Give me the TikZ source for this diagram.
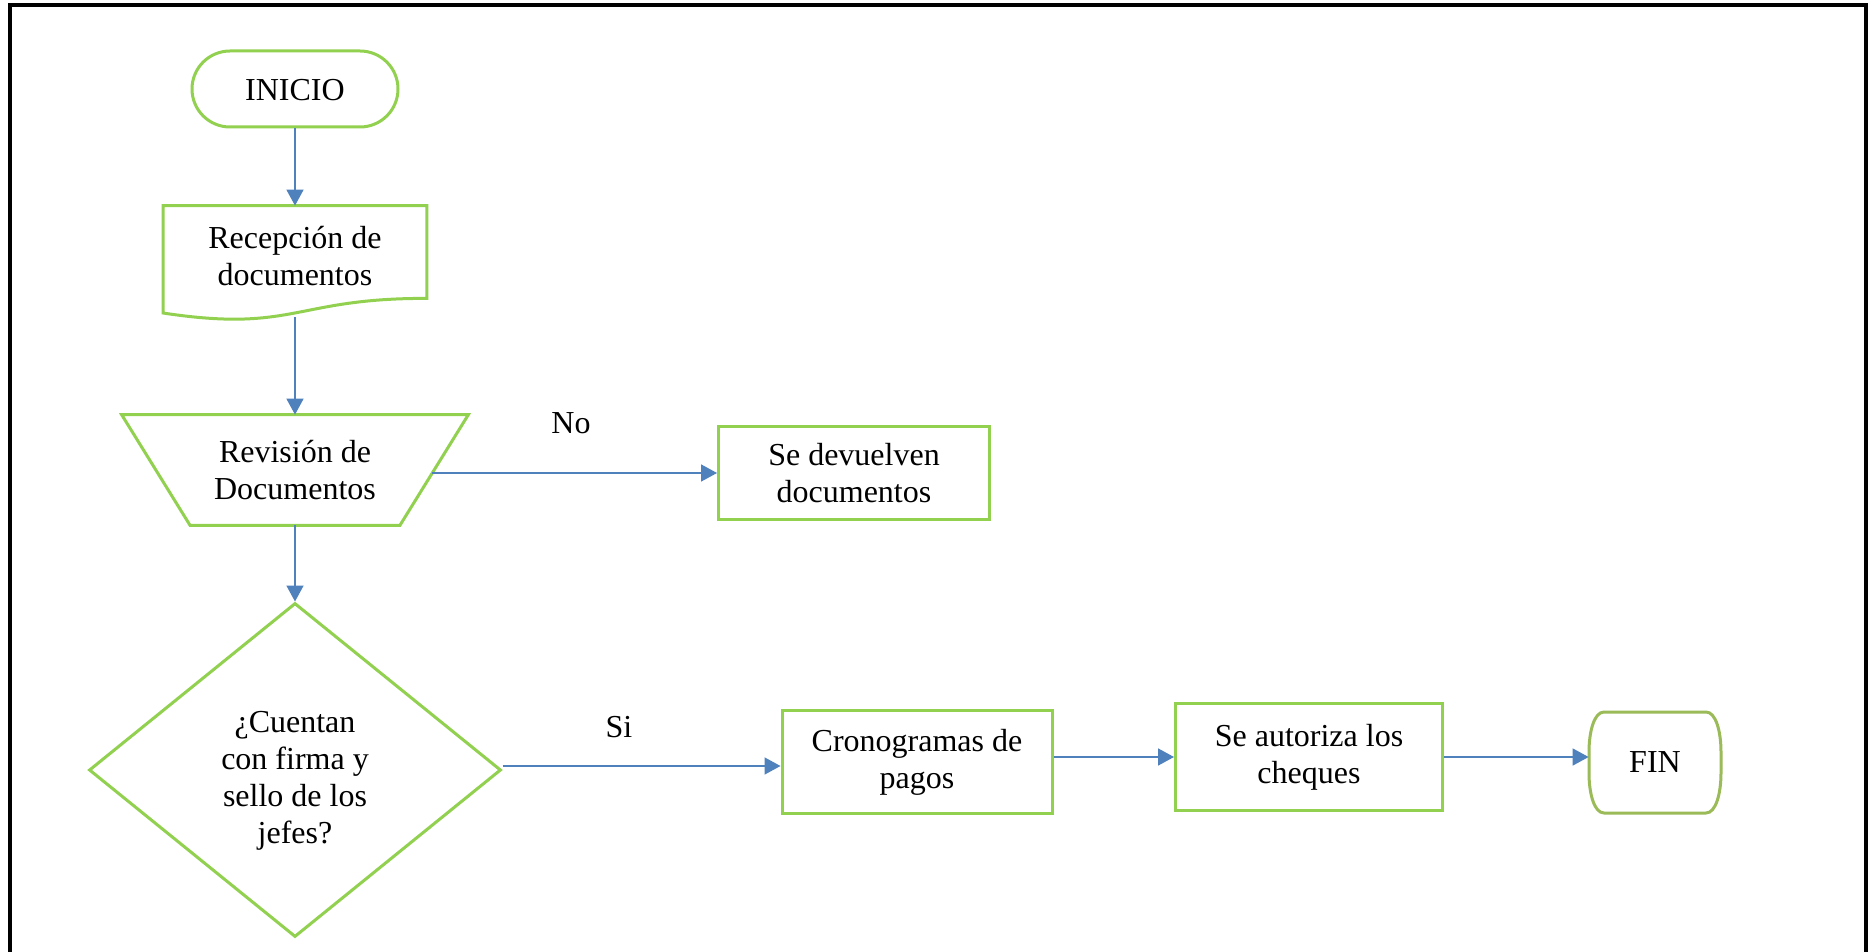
\documentclass[tikz,border=0pt]{standalone}
\usepackage{fontspec}
\setmainfont{Liberation Serif}
\usetikzlibrary{arrows.meta,shapes.geometric,shapes.misc}
\definecolor{flowgreen}{HTML}{92D050}
\definecolor{fingreen}{HTML}{9BBB59}
\definecolor{linkblue}{HTML}{4F81BD}
\tikzset{
 txt/.style={font=\fontsize{16}{18.4}\selectfont, align=center, inner sep=0pt},
 boxnode/.style={txt, draw=flowgreen, line width=1.5pt, rectangle},
 outline/.style={draw=flowgreen, line width=1.5pt, line join=miter},
 link/.style={draw=linkblue, line width=0.8pt, -{Triangle[length=8pt,width=8.5pt]}},
}
\begin{document}
\begin{tikzpicture}[x=0.5pt,y=-0.5pt]
\useasboundingbox (0,0) rectangle (1875,952);
\fill[white] (0,0) rectangle (1875,952);
\draw[line width=2pt] (10,952) -- (10,5.5) -- (1866,5.5) -- (1866,952);

% INICIO
\node[txt, draw=flowgreen, line width=1.5pt, rounded rectangle, minimum width=103pt, minimum height=38pt, text height=12pt, text depth=0pt] (inicio) at (295,89) {INICIO};

% Recepcion (document shape)
\node[txt, minimum width=131.5pt, minimum height=46pt] (recep) at (295,252) {};
\node[txt] (receptxt) at (295,256) {Recepción de\\documentos};
\draw[outline] (163,313) -- (recep.north west) -- (recep.north east) -- (recep.south east)
  .. controls (294.5,298) and (294.5,333) .. (163,313) -- cycle;
\coordinate (recepB) at (295,317);

% Revision (trapezoid)
\node[txt, minimum width=173pt, minimum height=55pt] (rev) at (295,470) {Revisión de\\Documentos};
\draw[outline] (rev.north west) -- (rev.north east) -- ([xshift=-34.25pt]rev.south east)
  -- ([xshift=34.25pt]rev.south west) -- cycle;
\coordinate (revR) at (432,473);

% Se devuelven
\node[boxnode, minimum width=135.5pt, minimum height=46.5pt] (dev) at (854,473) {Se devuelven\\documentos};
\node[txt] (nolab) at (571,423) {No};

% Decision
\node[draw=flowgreen, line width=1.5pt, diamond, minimum width=206pt, minimum height=167pt, inner sep=0pt] (dec) at (295,770) {};
\node[txt] (dectxt) at (295,781) {¿Cuentan\\con firma y\\sello de los\\jefes?};
\node[txt] (silab) at (619,727) {Si};

% Cronogramas
\node[boxnode, minimum width=135pt, minimum height=51.5pt] (cron) at (917,762) {Cronogramas de\\pagos};

% Se autoriza
\node[boxnode, minimum width=133.5pt, minimum height=53.5pt] (autz) at (1309,757) {Se autoriza los\\cheques};

% FIN
\node[txt, minimum width=66pt, minimum height=50.5pt] (fin) at (1655,762.5) {FIN};
\draw[draw=fingreen, line width=1.5pt] (1604,712) -- (1706,712)
  .. controls (1716,712) and (1721,732) .. (1721,752) -- (1721,773)
  .. controls (1721,793) and (1716,813) .. (1706,813) -- (1604,813)
  .. controls (1594,813) and (1589,793) .. (1589,773) -- (1589,752)
  .. controls (1589,732) and (1594,712) .. (1604,712) -- cycle;

% connectors
\draw[link] (inicio.south) -- (recep.north);
\draw[link] (recepB) -- (rev.north);
\draw[link] (revR) -- (revR -| dev.west);
\draw[link] (rev.south) -- (dec.north);
\draw[link] ([yshift=2pt]dec.east) -- ([yshift=2pt]dec.east -| cron.west);
\draw[link] (cron.east |- autz) -- (autz.west);
\draw[link] (autz.east) -- (autz.east -| fin.west);
\end{tikzpicture}
\end{document}
